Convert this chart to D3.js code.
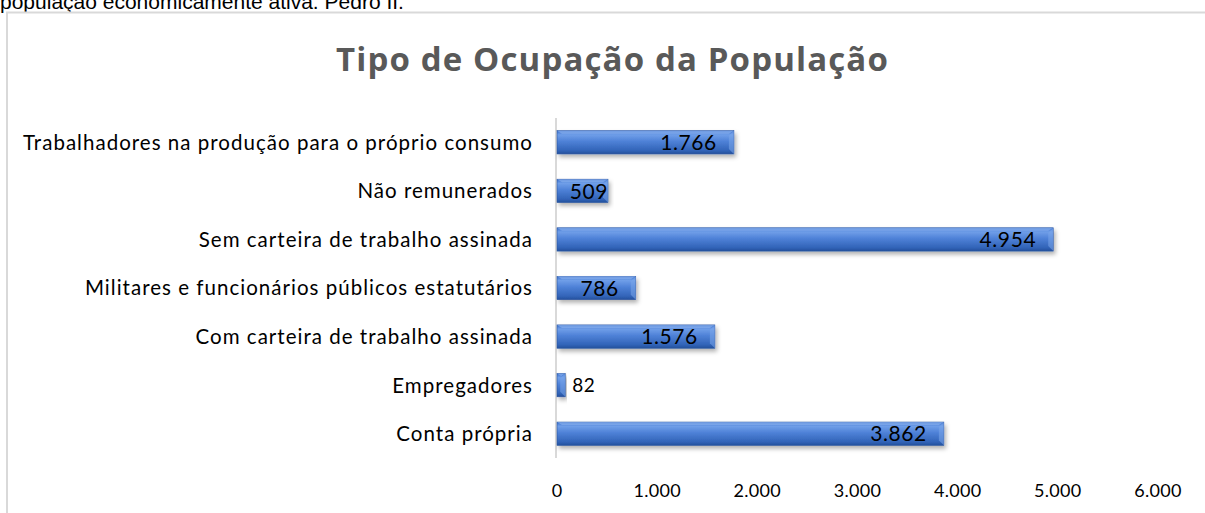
<!DOCTYPE html>
<html>
<head>
<meta charset="utf-8">
<script src="https://cdn.jsdelivr.net/npm/d3@7"></script>
<style>
  html, body { margin: 0; padding: 0; background: #fff; overflow: hidden; }
  svg { display: block; }
</style>
</head>
<body>
<script>
// Data.
const categories = [
  "Trabalhadores na produção para o próprio consumo",
  "Não remunerados",
  "Sem carteira de trabalho assinada",
  "Militares e funcionários públicos estatutários",
  "Com carteira de trabalho assinada",
  "Empregadores",
  "Conta própria"
];
const values = [1766, 509, 4954, 786, 1576, 82, 3862];
const xTicks = [0, 1000, 2000, 3000, 4000, 5000, 6000];
const title = "Tipo de Ocupação da População";
const caption = "população economicamente ativa. Pedro II.";

const width = 1205;
const height = 513;
const font = "Lato, 'Open Sans', sans-serif";
const fmt = (v) => d3.format(",")(v).replace(/,/g, ".");

// Spread letters so a text reaches a given width (the original is wider than Lato).
function fitWidth(node, target) {
  const w = node.getComputedTextLength();
  const n = node.textContent.length;
  return (target - w) / n;
}

const svg = d3.select("body").append("svg").attr("width", width).attr("height", height);

// Gradient and shadow for the bevelled bars.
const defs = svg.append("defs");
const grad = defs.append("linearGradient").attr("id", "barGrad")
  .attr("x1", 0).attr("y1", 0).attr("x2", 0).attr("y2", 1);
grad.append("stop").attr("offset", "0%").attr("stop-color", "#3a6fcc");
grad.append("stop").attr("offset", "18%").attr("stop-color", "#6f9ee8");
grad.append("stop").attr("offset", "45%").attr("stop-color", "#4f82d8");
grad.append("stop").attr("offset", "85%").attr("stop-color", "#3264b8");
grad.append("stop").attr("offset", "100%").attr("stop-color", "#24509c");
const shadow = defs.append("filter").attr("id", "shadow")
  .attr("x", "-5%").attr("y", "-30%").attr("width", "115%").attr("height", "190%");
shadow.append("feDropShadow").attr("dx", 2).attr("dy", 3).attr("stdDeviation", 2)
  .attr("flood-color", "#000").attr("flood-opacity", 0.3);

// Cropped caption line above the chart.
svg.append("text")
  .attr("x", 0).attr("y", 9)
  .attr("font-family", "Arial, 'Liberation Sans', sans-serif")
  .attr("font-size", 21)
  .attr("fill", "#000")
  .text(caption);

// Chart frame.
svg.append("rect")
  .attr("x", 7).attr("y", 12.5)
  .attr("width", width + 10).attr("height", height + 10)
  .attr("fill", "#fff").attr("stroke", "#d9d9d9").attr("stroke-width", 2);

const titleText = svg.append("text")
  .attr("x", 336).attr("y", 71)
  .attr("font-family", "'Open Sans', Lato, sans-serif")
  .attr("font-weight", "bold")
  .attr("font-size", 33)
  .attr("fill", "#595959")
  .text(title);
titleText.attr("letter-spacing", Math.max(0, fitWidth(titleText.node(), 553)));

// Scales.
const x = d3.scaleLinear().domain([0, 6000]).range([557, 1158]);
const y = d3.scaleBand().domain(categories).range([118, 458]).paddingInner(0.52).paddingOuter(0.26);

// Category axis.
svg.append("line")
  .attr("x1", 556).attr("x2", 556)
  .attr("y1", 118).attr("y2", 458)
  .attr("stroke", "#d9d9d9").attr("stroke-width", 2);

const catLabels = svg.append("g").selectAll("text").data(categories).join("text")
  .attr("x", 533)
  .attr("y", (d) => y(d) + y.bandwidth() / 2)
  .attr("dy", "0.36em")
  .attr("text-anchor", "end")
  .attr("font-family", font)
  .attr("font-size", 20.5)
  .attr("fill", "#000")
  .text((d) => d);
const catSpacing = fitWidth(catLabels.node(), 510);
catLabels.attr("letter-spacing", catSpacing);

// Value axis tick labels.
svg.append("g").selectAll("text").data(xTicks).join("text")
  .attr("x", (d) => x(d))
  .attr("y", 491)
  .attr("dy", "0.36em")
  .attr("text-anchor", "middle")
  .attr("font-family", font)
  .attr("font-size", 18)
  .attr("letter-spacing", 0.3)
  .attr("fill", "#000")
  .text((d) => fmt(d));

// Bars.
const bars = svg.append("g").selectAll("g").data(categories).join("g")
  .attr("transform", (d) => `translate(0,${y(d)})`);

bars.append("rect")
  .attr("x", x(0))
  .attr("width", (d, i) => x(values[i]) - x(0))
  .attr("height", y.bandwidth())
  .attr("fill", "url(#barGrad)")
  .attr("stroke", "#2a559f")
  .attr("stroke-width", 0.6)
  .attr("filter", "url(#shadow)");

// Bevel at the ends.
const bevel = 5;
bars.append("path")
  .attr("d", (d, i) => {
    const x1 = x(values[i]);
    const h = y.bandwidth();
    return `M${x1},0 L${x1 - bevel},${bevel} L${x1 - bevel},${h - bevel} L${x1},${h} Z`;
  })
  .attr("fill", "#7aa6ea")
  .attr("opacity", 0.55);
bars.append("path")
  .attr("d", (d, i) => {
    const x0 = x(0), x1 = x(values[i]);
    const b = Math.min(bevel, (x1 - x0) / 2);
    return `M${x0},0 L${x1},0 L${x1 - b},${b * 0.6} L${x0 + b},${b * 0.6} Z`;
  })
  .attr("fill", "#8fb6f0")
  .attr("opacity", 0.6);

// Data labels.
bars.append("text")
  .attr("y", y.bandwidth() / 2)
  .attr("dy", "0.37em")
  .attr("font-family", font)
  .attr("font-size", 21)
  .attr("letter-spacing", 0.6)
  .attr("fill", "#000")
  .text((d, i) => fmt(values[i]))
  .each(function (d, i) {
    const t = d3.select(this);
    const w = this.getComputedTextLength();
    const x0 = x(0), x1 = x(values[i]);
    if (x1 - x0 < w) {
      t.attr("x", x1 + 7).attr("text-anchor", "start").attr("font-size", 19);
    } else if (x1 - x0 - 17 > w + 14) {
      t.attr("x", x1 - 17).attr("text-anchor", "end");
    } else {
      t.attr("x", x1).attr("text-anchor", "end");
    }
  });
</script>
</body>
</html>
